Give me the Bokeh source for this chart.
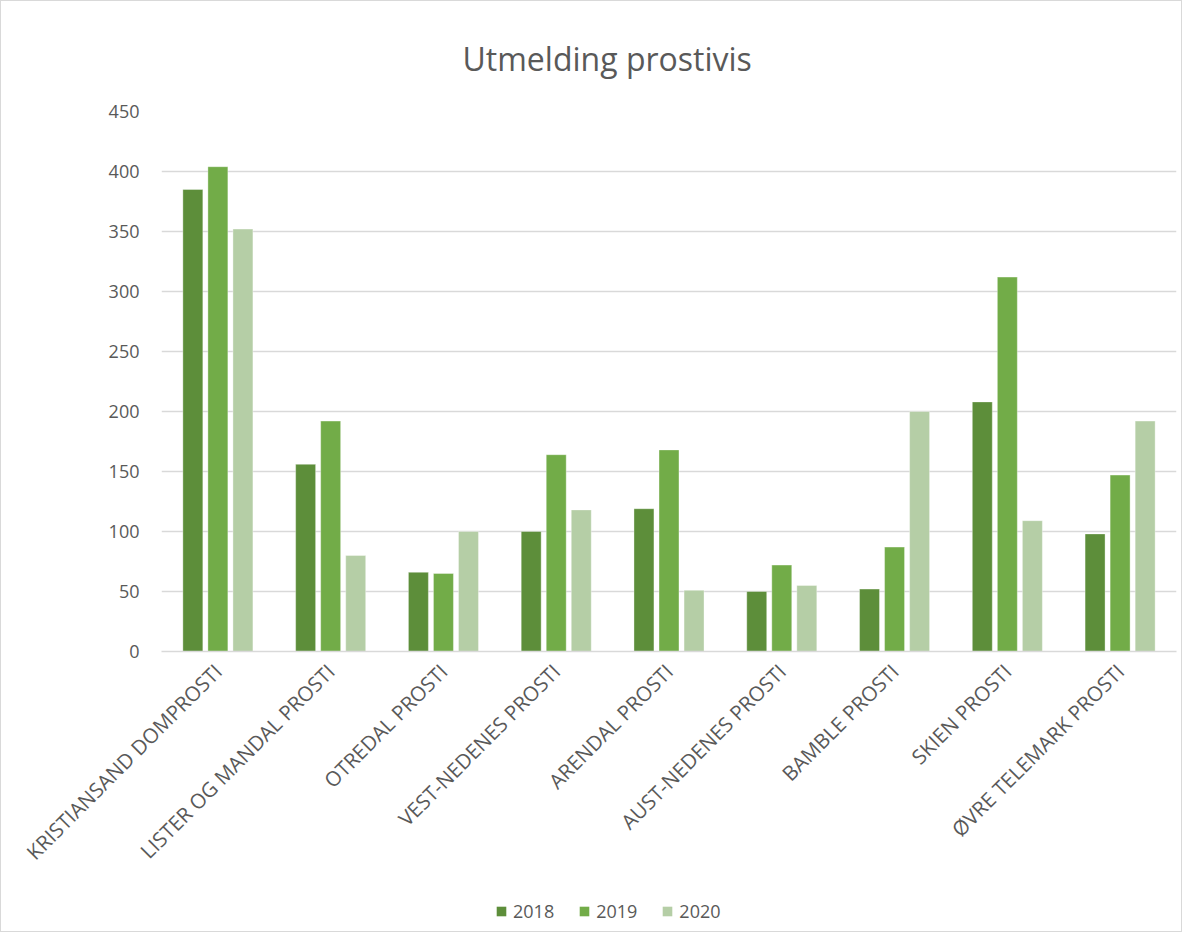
import math
from bokeh.plotting import figure
from bokeh.layouts import column
from bokeh.models import (FactorRange, Range1d, Legend, LegendItem, ColumnDataSource, Title,
                          SingleIntervalTicker)
from bokeh.transform import dodge
from bokeh.embed import file_html
from bokeh.resources import INLINE

categories = ["KRISTIANSAND DOMPROSTI", "LISTER OG MANDAL PROSTI", "OTREDAL PROSTI",
              "VEST-NEDENES PROSTI", "ARENDAL PROSTI", "AUST-NEDENES PROSTI",
              "BAMBLE PROSTI", "SKIEN PROSTI", "ØVRE TELEMARK PROSTI"]
years = ["2018", "2019", "2020"]
v2018 = [385, 156, 66, 100, 119, 50, 52, 208, 98]
v2019 = [404, 192, 65, 164, 168, 72, 87, 312, 147]
v2020 = [352, 80, 100, 118, 51, 55, 200, 109, 192]
colors = ["#5d8e3a", "#72ac48", "#b5cea6"]

FONT = "Open Sans"
TXT = "#595959"

src = ColumnDataSource(dict(cat=categories, y2018=v2018, y2019=v2019, y2020=v2020))

p = figure(x_range=FactorRange(*categories), y_range=Range1d(0, 450),
           width=1180, height=880, output_backend="svg", toolbar_location=None,
           min_border_left=160, min_border_right=5, min_border_top=110, min_border_bottom=230)
p.outline_line_color = None

renderers = []
for off, key, c in zip([-0.222, 0.0, 0.222], ["y2018", "y2019", "y2020"], colors):
    r = p.vbar(x=dodge("cat", off, range=p.x_range), top=key, width=0.177, source=src,
               fill_color=c, line_color="white", line_alpha=0.35, line_width=1)
    renderers.append(r)

p.yaxis.ticker = SingleIntervalTicker(interval=50)
p.yaxis.axis_line_color = None
p.yaxis.major_tick_line_color = None
p.yaxis.minor_tick_line_color = None
p.yaxis.major_label_text_font = FONT
p.yaxis.major_label_text_font_size = "18px"
p.yaxis.major_label_text_color = TXT
p.yaxis.major_label_standoff = 16

p.xaxis.axis_line_color = "#d9d9d9"
p.xaxis.axis_line_width = 1.5
p.xaxis.major_tick_line_color = None
p.xaxis.minor_tick_line_color = None
p.xaxis.major_label_orientation = math.pi / 4
p.xaxis.major_label_text_font = FONT
p.xaxis.major_label_text_font_size = "20.5px"
p.xaxis.major_label_text_color = TXT
p.xaxis.major_label_standoff = 10

p.xgrid.grid_line_color = None
p.ygrid.grid_line_color = "#d9d9d9"
p.ygrid.grid_line_width = 1.5

title = Title(text="Utmelding prostivis", align="left", offset=301, standoff=63,
              text_font=FONT, text_font_size="32px", text_color=TXT, text_font_style="normal")
p.add_layout(title, "above")

# legend strip below the chart (its frame is aligned with the chart's frame)
lg = figure(width=1180, height=50, output_backend="svg", toolbar_location=None,
            x_range=Range1d(0, 1), y_range=Range1d(0, 1),
            min_border_left=0, min_border_right=0, min_border_top=0, min_border_bottom=0)
lg.axis.visible = False
lg.grid.visible = False
lg.outline_line_color = None
dummy = ColumnDataSource(dict(x=[-100.0], top=[0.0]))
lrs = [lg.vbar(x="x", top="top", width=0.1, source=dummy, fill_color=c, line_color=None)
       for c in colors]
legend = Legend(items=[LegendItem(label=y, renderers=[r]) for y, r in zip(years, lrs)],
                orientation="horizontal", location=(334, 8),
                label_text_font=FONT, label_text_font_size="18px", label_text_color=TXT,
                glyph_width=12, glyph_height=12, spacing=24, padding=0, margin=0,
                border_line_color=None, background_fill_alpha=0, label_standoff=6)
lg.add_layout(legend)

layout = column(p, lg, spacing=0)
layout.styles = {"border": "1px solid #d9d9d9"}

open("out.html", "w").write(file_html(layout, INLINE))
